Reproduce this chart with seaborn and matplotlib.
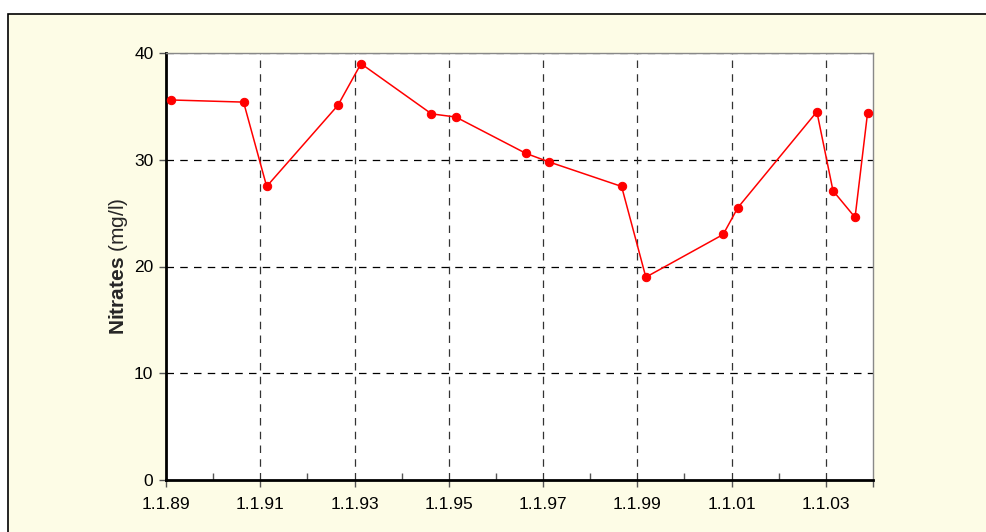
import pandas as pd
import numpy as np
import matplotlib
matplotlib.use("Agg")
import matplotlib.pyplot as plt
from matplotlib.patches import Rectangle
import seaborn as sns

# Sampling dates and nitrate concentrations
dates = ["1989-02-10", "1990-08-25", "1991-02-20", "1992-08-25", "1993-02-20",
         "1994-08-20", "1995-02-25", "1996-08-20", "1997-02-15", "1998-09-01",
         "1999-03-08", "2000-10-27", "2001-02-17", "2002-10-23", "2003-02-25",
         "2003-08-15", "2003-11-20"]
nitrates = [35.6, 35.4, 27.5, 35.1, 39.0, 34.3, 34.0, 30.6, 29.8, 27.5,
            19.0, 23.0, 25.5, 34.5, 27.1, 24.6, 34.4]
major_years = list(range(1989, 2004, 2))
tick_labels = ["1.1.%02d" % (y % 100) for y in major_years]

df = pd.DataFrame({"date": pd.to_datetime(dates), "nitrates": nitrates})

sns.set_style("white")
plt.rcParams["font.family"] = ["Liberation Sans", "DejaVu Sans"]
plt.rcParams["mathtext.fontset"] = "custom"
plt.rcParams["mathtext.bf"] = "Liberation Sans:bold"
plt.rcParams["mathtext.rm"] = "Liberation Sans"

fig = plt.figure(figsize=(9.87, 5.32), dpi=100, facecolor="white")
# yellow chart area with black border (right/bottom edges fall outside the image)
fig.patches.append(Rectangle((8 / 987, -0.1), 1.2, 1.1 - 14 / 532,
                             transform=fig.transFigure, facecolor="#FDFCE6",
                             edgecolor="black", linewidth=1.2, zorder=-1))

ax = fig.add_axes([166 / 987, 52 / 532, (873 - 166) / 987, (480 - 53) / 532])
ax.set_facecolor("white")

sns.lineplot(data=df, x="date", y="nitrates", ax=ax, color="red", linewidth=1.1,
             marker="o", markersize=6, markeredgecolor="red", zorder=3)

ax.set_xlim(pd.Timestamp("1989-01-01"), pd.Timestamp("2004-01-01"))
ax.set_ylim(0, 40)
ax.set_yticks([0, 10, 20, 30, 40])

major_ticks = [pd.Timestamp("%d-01-01" % y) for y in major_years] + [pd.Timestamp("2004-01-01")]
ax.set_xticks(major_ticks)
ax.set_xticklabels(tick_labels + [""])
ax.set_xticks([pd.Timestamp("%d-01-01" % y) for y in range(1990, 2004, 2)], minor=True)

ax.tick_params(axis="both", which="major", direction="out", length=5, width=1,
               color="#555555", labelsize=12.5, labelcolor="black", pad=4)
ax.tick_params(axis="x", which="major", pad=7)
ax.tick_params(axis="x", which="minor", direction="in", length=5, width=1,
               color="#555555", bottom=True)
ax.tick_params(axis="x", which="major", bottom=True)
ax.tick_params(axis="y", which="major", left=True)

# dashed grid lines at labelled ticks
for y in [10, 20, 30]:
    ax.axhline(y, color="black", linestyle=(0, (6, 5)), linewidth=0.9, zorder=1)
for d in major_ticks[1:-1]:
    ax.axvline(d, color="#333333", linestyle=(0, (6, 5)), linewidth=0.9, zorder=1)
ax.axhline(40, color="#333333", linestyle=(0, (6, 5)), linewidth=0.9, zorder=1)

for side in ["left", "bottom"]:
    ax.spines[side].set_color("black")
    ax.spines[side].set_linewidth(2)
for side in ["top", "right"]:
    ax.spines[side].set_color("#888888")
    ax.spines[side].set_linewidth(1)

ax.set_xlabel("")
ax.set_ylabel(r"$\bf{Nitrates}$ (mg/l)", fontsize=15, labelpad=3)

fig.savefig("out.png", dpi=100, facecolor=fig.get_facecolor())
